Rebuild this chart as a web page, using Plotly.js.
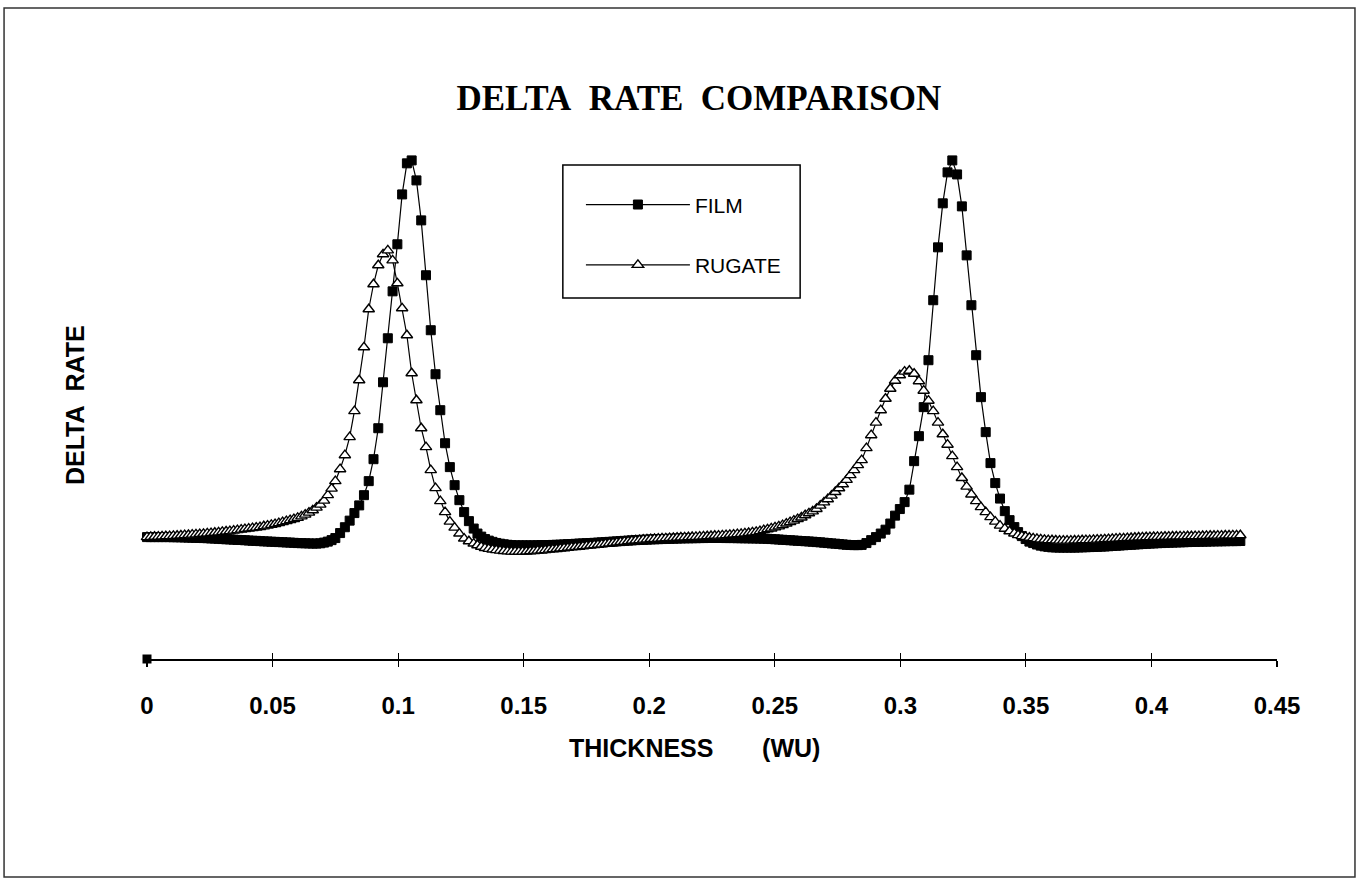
<!DOCTYPE html>
<html>
<head>
<meta charset="utf-8">
<script src="https://cdn.plot.ly/plotly-3.0.1.min.js"></script>
<style>html,body{margin:0;padding:0;background:#fff;}#chart{width:1357px;height:881px;}</style>
</head>
<body>
<div id="chart"></div>
<script>
// Thickness (WU) sample positions shared by both series
const thickness = [
0,0.0015,0.003,0.0045,0.006,0.0075,0.009,0.0105,0.012,0.0135,
0.015,0.0165,0.018,0.0195,0.021,0.0225,0.024,0.0255,0.027,0.0285,
0.03,0.0315,0.033,0.0345,0.036,0.0375,0.039,0.0405,0.042,0.0435,
0.045,0.0465,0.048,0.0495,0.051,0.0525,0.054,0.0555,0.057,0.0585,
0.06,0.0615,0.063,0.0645,0.066,0.0675,0.069,0.0705,0.072,0.0735,
0.075,
0.0769,0.0788,0.0807,0.0826,0.0845,0.0864,0.0883,0.0902,0.0921,0.094,
0.0959,0.0978,0.0997,0.1016,0.1035,0.1054,0.1073,0.1092,0.1111,0.113,
0.1149,0.1168,0.1187,0.1206,0.1225,0.1244,0.1263,0.1282,0.1301,
0.1316,0.1331,0.1346,0.1361,0.1376,0.1391,0.1406,0.1421,0.1436,0.1451,
0.1466,0.1481,0.1496,0.1511,0.1526,0.1541,0.1556,0.1571,0.1586,0.1601,
0.1616,0.1631,0.1646,0.1661,0.1676,0.1691,0.1706,0.1721,0.1736,0.1751,
0.1766,0.1781,0.1796,0.1811,0.1826,0.1841,0.1856,0.1871,0.1886,0.1901,
0.1916,0.1931,0.1946,0.1961,0.1976,0.1991,0.2006,0.2021,0.2036,0.2051,
0.2066,0.2081,0.2096,0.2111,0.2126,0.2141,0.2156,0.2171,0.2186,0.2201,
0.2216,0.2231,0.2246,0.2261,0.2276,0.2291,0.2306,0.2321,0.2336,0.2351,
0.2366,0.2381,0.2396,0.2411,0.2426,0.2441,0.2456,0.2471,0.2486,0.2501,
0.2516,0.2531,0.2546,0.2561,0.2576,0.2591,0.2606,0.2621,0.2636,0.2651,
0.2666,0.2681,0.2696,0.2711,0.2726,0.2741,0.2756,0.2771,0.2786,0.2801,
0.2816,0.2831,0.2846,
0.2865,0.2884,0.2903,0.2922,0.2941,0.296,0.2979,0.2998,0.3017,0.3036,
0.3055,0.3074,0.3093,0.3112,0.3131,0.315,0.3169,0.3188,0.3207,0.3226,
0.3245,0.3264,0.3283,0.3302,0.3321,0.334,0.3359,0.3378,0.3397,0.3416,
0.3435,0.3454,
0.3469,0.3484,0.3499,0.3514,0.3529,0.3544,0.3559,0.3574,0.3589,0.3604,
0.3619,0.3634,0.3649,0.3664,0.3679,0.3694,0.3709,0.3724,0.3739,0.3754,
0.3769,0.3784,0.3799,0.3814,0.3829,0.3844,0.3859,0.3874,0.3889,0.3904,
0.3919,0.3934,0.3949,0.3964,0.3979,0.3994,0.4009,0.4024,0.4039,0.4054,
0.4069,0.4084,0.4099,0.4114,0.4129,0.4144,0.4159,0.4174,0.4189,0.4204,
0.4219,0.4234,0.4249,0.4264,0.4279,0.4294,0.4309,0.4324,0.4339,0.4354
];

// FILM delta rate
const film = [
1.000,1.000,1.000,1.000,1.000,1.000,1.000,0.999,0.999,0.998,
0.997,0.996,0.995,0.994,0.993,0.992,0.991,0.989,0.988,0.986,0.984,
0.982,0.981,0.979,0.977,0.976,0.974,0.972,0.970,0.969,0.967,
0.965,0.964,0.962,0.961,0.959,0.958,0.956,0.955,0.953,0.951,
0.950,0.949,0.948,0.947,0.947,
0.949,0.955,0.963,0.975,0.992,
1.033,1.081,1.135,1.197,1.260,1.344,1.459,1.639,1.893,2.270,
2.631,3.016,3.402,3.811,4.066,4.090,3.926,3.598,3.148,2.697,
2.336,2.041,1.770,1.574,1.426,1.303,1.205,1.131,1.070,
1.029,1.004,0.984,0.971,0.961,0.952,0.946,0.941,0.937,0.934,
0.932,0.932,0.932,0.932,0.932,0.932,
0.933,0.934,0.934,0.935,0.936,0.937,0.938,
0.940,0.942,0.943,0.945,0.947,0.948,0.950,0.951,0.953,0.955,
0.957,0.959,0.961,0.963,0.965,0.967,0.969,0.971,0.973,0.975,0.977,0.978,0.979,
0.981,0.982,0.983,0.984,0.985,0.986,0.987,0.988,0.989,0.990,0.990,0.991,0.991,0.992,
0.992,0.993,0.993,0.993,0.993,0.993,0.992,0.992,0.992,0.991,0.991,0.990,0.990,0.989,0.989,0.988,0.987,
0.986,0.984,0.982,0.980,0.978,0.976,0.974,0.972,0.970,0.968,0.966,
0.964,0.962,0.959,0.957,0.954,0.951,0.948,0.946,0.943,0.940,0.937,0.935,
0.934,0.934,0.936,
0.951,0.975,1.000,1.029,1.061,1.111,1.176,1.230,1.287,1.389,
1.623,1.828,2.066,2.451,2.943,3.377,3.738,3.992,4.090,3.975,
3.713,3.311,2.902,2.492,2.148,1.861,1.607,1.443,1.316,1.213,
1.139,1.082,
1.041,1.008,0.984,0.963,0.951,0.939,0.930,0.924,0.920,0.916,
0.915,0.914,0.914,0.914,0.914,0.914,0.915,0.916,0.917,0.918,
0.919,0.920,0.922,0.923,0.925,0.927,0.929,0.931,0.933,0.935,
0.937,0.939,0.941,0.943,0.945,0.947,0.948,0.950,0.951,0.953,
0.954,0.955,0.956,0.957,0.958,0.959,0.960,0.961,0.962,0.963,
0.963,0.964,0.965,0.965,0.966,0.966,0.967,0.967,0.967,0.968
];

// RUGATE delta rate
const rugate = [
1.000,1.002,1.003,1.004,1.006,1.007,1.008,1.010,1.011,1.013,
1.016,1.017,1.020,1.022,1.025,1.027,1.030,1.033,1.036,1.039,
1.043,1.046,1.049,1.053,1.057,1.061,1.066,1.070,1.074,1.078,
1.082,1.089,1.094,1.100,1.107,1.115,1.123,1.131,1.139,1.148,
1.158,1.170,1.184,1.201,1.220,1.242,1.266,1.299,1.344,1.398,
1.459,
1.557,1.672,1.820,2.033,2.287,2.557,2.869,3.074,3.230,3.320,
3.352,3.270,3.082,2.877,2.656,2.344,2.123,1.893,1.738,1.549,
1.402,1.295,1.205,1.127,1.078,1.029,0.988,0.966,0.947,
0.933,0.921,0.910,0.903,0.898,0.893,0.889,0.886,0.883,0.881,
0.881,0.881,0.881,0.882,0.884,0.886,0.889,0.890,0.893,0.897,
0.900,0.902,0.906,0.909,0.912,0.916,0.919,0.921,0.925,0.928,
0.931,0.934,0.937,0.940,0.944,0.948,0.952,0.956,0.960,0.963,
0.966,0.970,0.972,0.975,0.979,0.981,0.984,0.985,0.987,0.989,
0.990,0.992,0.993,0.995,0.997,0.998,0.999,1.001,1.002,1.004,
1.006,1.007,1.009,1.011,1.012,1.014,1.016,1.019,1.021,1.024,
1.026,1.030,1.034,1.039,1.043,1.049,1.057,1.064,1.071,1.080,
1.088,1.098,1.111,1.123,1.135,1.148,1.161,1.179,1.195,1.211,
1.231,1.258,1.285,1.311,1.340,1.370,1.401,1.433,1.469,1.508,
1.549,1.590,1.631,
1.730,1.836,1.939,2.041,2.135,2.217,2.283,2.328,2.357,2.365,
2.340,2.279,2.201,2.119,2.033,1.939,1.844,1.758,1.664,1.574,
1.485,1.414,1.350,1.295,1.246,1.205,1.164,1.127,1.094,1.069,
1.048,1.030,
1.016,1.008,1.002,0.995,0.990,0.985,0.981,0.978,0.975,0.974,
0.972,0.971,0.971,0.971,0.971,0.972,0.973,0.974,0.975,0.975,
0.977,0.979,0.980,0.982,0.984,0.985,0.987,0.989,0.990,0.992,
0.993,0.995,0.997,0.998,0.999,1.000,1.001,1.002,1.002,1.003,
1.004,1.005,1.005,1.006,1.006,1.007,1.007,1.008,1.008,1.009,
1.010,1.011,1.011,1.012,1.012,1.013,1.013,1.014,1.014,1.015
];

// lone FILM point sitting on the axis
const filmStartX = [0];
const filmStartY = [0];

const tickValues = [0,0.05,0.1,0.15,0.2,0.25,0.3,0.35,0.4,0.45];
const tickLabels = ['0','0.05','0.1','0.15','0.2','0.25','0.3','0.35','0.4','0.45'];

const seriesNames = ['FILM','RUGATE'];
const chartTitle = 'DELTA\u00a0\u00a0RATE\u00a0\u00a0COMPARISON';
const xTitle = 'THICKNESS\u00a0\u00a0\u00a0\u00a0\u00a0\u00a0\u00a0(WU)';
const yTitle = 'DELTA\u00a0\u00a0RATE';

const SANS = 'Liberation Sans, Arial, sans-serif';
const SERIF = 'Liberation Serif, Times New Roman, serif';

const traces = [
  {
    x: thickness, y: film, name: seriesNames[0], type: 'scatter', mode: 'lines+markers',
    legendgroup: 'a', cliponaxis: false,
    line: {color: '#000', width: 1.2},
    marker: {symbol: 'square', size: 9, color: '#000', line: {color: '#000', width: 1}}
  },
  {
    x: thickness, y: rugate, name: seriesNames[1], type: 'scatter', mode: 'lines+markers',
    legendgroup: 'b', cliponaxis: false,
    line: {color: '#000', width: 1.2},
    marker: {symbol: 'triangle-up', size: 10, color: '#fff', line: {color: '#000', width: 1.4}}
  },
  {
    x: filmStartX, y: filmStartY, type: 'scatter', mode: 'markers', showlegend: false,
    cliponaxis: false, hoverinfo: 'skip',
    marker: {symbol: 'square', size: 9, color: '#000'}
  },
  {
    x: [null], y: [null], xaxis: 'x2', type: 'scatter', mode: 'lines', showlegend: false, hoverinfo: 'skip'
  }
];

const layout = {
  width: 1357, height: 881,
  margin: {l: 147, r: 80, t: 147, b: 222},
  paper_bgcolor: '#fff', plot_bgcolor: '#fff',
  showlegend: true,
  title: {
    text: chartTitle, x: 0.515, xanchor: 'center', y: 0.889, yanchor: 'middle',
    font: {family: SERIF, size: 35, color: '#000', weight: 'bold'}
  },
  xaxis: {
    range: [0, 0.45], tickvals: tickValues, ticktext: tickLabels,
    ticks: 'outside', ticklen: 6, tickwidth: 1.2, tickcolor: '#000',
    showline: true, linecolor: '#000', linewidth: 1.5,
    showgrid: false, zeroline: false,
    ticklabelstandoff: 19,
    tickfont: {family: SANS, size: 24, color: '#000', weight: 'bold'}
  },
  xaxis2: {
    range: [0, 0.45], overlaying: 'x', anchor: 'y', side: 'bottom',
    tickvals: tickValues, ticks: 'inside', ticklen: 6, tickwidth: 1.2, tickcolor: '#000',
    showticklabels: false, showline: false, showgrid: false, zeroline: false
  },
  yaxis: {
    range: [0, 4.2], showline: false, showticklabels: false, ticks: '',
    showgrid: false, zeroline: false
  },
  legend: {
    x: 0.384, y: 0.927, xanchor: 'left', yanchor: 'top',
    bgcolor: 'rgba(0,0,0,0)', borderwidth: 0,
    itemwidth: 104, traceorder: 'grouped', tracegroupgap: 30,
    font: {family: SANS, size: 21, color: '#000'}
  },
  annotations: [
    {text: xTitle, xref: 'paper', yref: 'paper', x: 0.4845, y: -0.174, xanchor: 'center', yanchor: 'middle',
     showarrow: false, font: {family: SANS, size: 25, color: '#000', weight: 'bold'}},
    {text: yTitle, xref: 'paper', yref: 'paper', x: -0.0637, y: 0.496, xanchor: 'center', yanchor: 'middle',
     textangle: -90, showarrow: false, font: {family: SANS, size: 25, color: '#000', weight: 'bold'}}
  ],
  shapes: [
    {type: 'rect', xref: 'paper', yref: 'paper', x0: 0.368, x1: 0.578, y0: 0.705, y1: 0.965,
     line: {color: '#000', width: 1.5}, fillcolor: 'rgba(0,0,0,0)'},
    {type: 'rect', xref: 'paper', yref: 'paper', x0: -0.1265, x1: 1.069, y0: -0.4258, y1: 1.2715,
     line: {color: '#333', width: 1.5}, fillcolor: 'rgba(0,0,0,0)'}
  ]
};

Plotly.newPlot('chart', traces, layout, {displayModeBar: false, staticPlot: true});
</script>
</body>
</html>
